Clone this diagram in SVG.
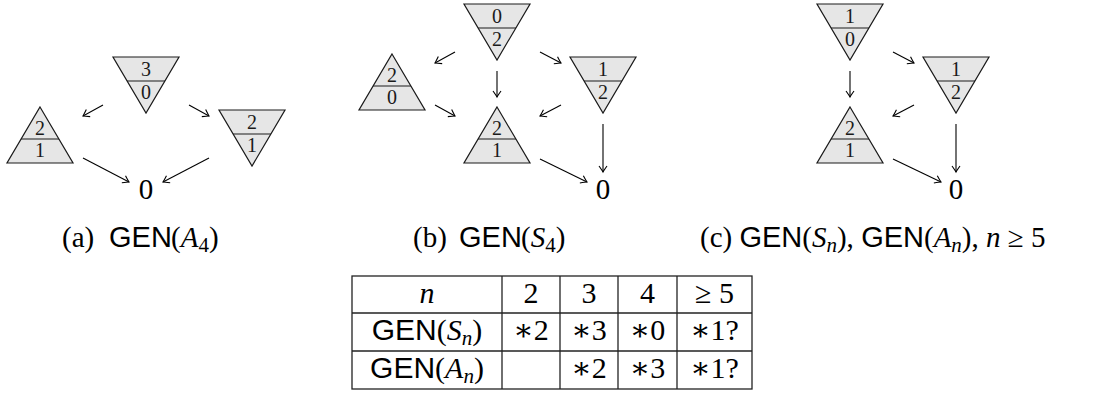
<svg xmlns="http://www.w3.org/2000/svg" width="1112" height="395" viewBox="0 0 1112 395">
<style>
.tri{fill:#e6e6e6;stroke:#1a1a1a;stroke-width:1.2;stroke-linejoin:miter}
.div{stroke:#1a1a1a;stroke-width:1.2}
.d{font-family:"Liberation Serif","DejaVu Serif",serif;font-size:20px;fill:#1a1a1a;text-anchor:middle}
.z{font-family:"Liberation Serif","DejaVu Serif",serif;font-size:29px;fill:#000;text-anchor:middle}
.cap{font-family:"Liberation Serif","DejaVu Serif",serif;font-size:29px;fill:#000}
.sf{font-family:"Liberation Sans","DejaVu Sans",sans-serif}
.it{font-style:italic}
.sub{font-size:21px}
.arr{stroke:#000;stroke-width:1.1;fill:none;marker-end:url(#ah)}
.tl{stroke:#222;stroke-width:1.3;fill:none}
.tc{font-family:"Liberation Serif","DejaVu Serif",serif;font-size:30px;fill:#000;text-anchor:middle}
</style>
<defs>
<marker id="ah" viewBox="-8 -5 10 10" refX="0" refY="0" markerWidth="10" markerHeight="10" markerUnits="userSpaceOnUse" orient="auto">
<path d="M-6,-4 Q-1.5,-0.8 0,0 Q-1.5,0.8 -6,4" fill="none" stroke="#000" stroke-width="1.1"/>
</marker>
</defs>

<g id="connectors">
<line class="arr" x1="103" y1="105" x2="83" y2="116"/>
<line class="arr" x1="189" y1="105" x2="209" y2="116"/>
<line class="arr" x1="83" y1="158" x2="129" y2="182"/>
<line class="arr" x1="209" y1="158" x2="163" y2="182"/>

<line class="arr" x1="455" y1="52" x2="435" y2="63"/>
<line class="arr" x1="540" y1="52" x2="561" y2="63"/>
<line class="arr" x1="497" y1="71" x2="497" y2="97"/>
<line class="arr" x1="435" y1="105" x2="455" y2="116"/>
<line class="arr" x1="561" y1="105" x2="540" y2="116"/>
<line class="arr" x1="603" y1="124" x2="603" y2="172"/>
<line class="arr" x1="540" y1="159" x2="587" y2="182"/>

<line class="arr" x1="850" y1="71" x2="850" y2="97"/>
<line class="arr" x1="893" y1="52" x2="914" y2="63"/>
<line class="arr" x1="914" y1="105" x2="893" y2="116"/>
<line class="arr" x1="956" y1="124" x2="956" y2="172"/>
<line class="arr" x1="893" y1="159" x2="941" y2="182"/>
</g>

<!-- (a) -->
<g id="a-top">
<polygon class="tri" points="113,57 179,57 146,113"/>
<line class="div" x1="127.1" y1="81" x2="164.9" y2="81"/>
<text class="d" x="146" y="76">3</text>
<text class="d" x="146" y="99">0</text>
</g>
<g id="a-left">
<polygon class="tri" points="40,107 73,163 7,163"/>
<line class="div" x1="21.1" y1="139" x2="58.9" y2="139"/>
<text class="d" x="40" y="135">2</text>
<text class="d" x="40" y="157">1</text>
</g>
<g id="a-right">
<polygon class="tri" points="219,110 285,110 252,166"/>
<line class="div" x1="233.1" y1="134" x2="270.9" y2="134"/>
<text class="d" x="252" y="129">2</text>
<text class="d" x="252" y="152">1</text>
</g>
<g id="a-zero"><text class="z" x="146" y="199">0</text></g>

<!-- (b) -->
<g id="b-top">
<polygon class="tri" points="464,4 530,4 497,60"/>
<line class="div" x1="478.1" y1="28" x2="515.9" y2="28"/>
<text class="d" x="497" y="23">0</text>
<text class="d" x="497" y="46">2</text>
</g>
<g id="b-left">
<polygon class="tri" points="392,54 425,110 359,110"/>
<line class="div" x1="373.1" y1="86" x2="410.9" y2="86"/>
<text class="d" x="392" y="82">2</text>
<text class="d" x="392" y="104">0</text>
</g>
<g id="b-right">
<polygon class="tri" points="570,57 636,57 603,113"/>
<line class="div" x1="584.1" y1="81" x2="621.9" y2="81"/>
<text class="d" x="603" y="76">1</text>
<text class="d" x="603" y="99">2</text>
</g>
<g id="b-center">
<polygon class="tri" points="497,107 530,163 464,163"/>
<line class="div" x1="478.1" y1="139" x2="515.9" y2="139"/>
<text class="d" x="497" y="135">2</text>
<text class="d" x="497" y="157">1</text>
</g>
<g id="b-zero"><text class="z" x="603" y="199">0</text></g>

<!-- (c) -->
<g id="c-top">
<polygon class="tri" points="817,4 883,4 850,60"/>
<line class="div" x1="831.1" y1="28" x2="868.9" y2="28"/>
<text class="d" x="850" y="23">1</text>
<text class="d" x="850" y="46">0</text>
</g>
<g id="c-right">
<polygon class="tri" points="923,57 989,57 956,113"/>
<line class="div" x1="937.1" y1="81" x2="974.9" y2="81"/>
<text class="d" x="956" y="76">1</text>
<text class="d" x="956" y="99">2</text>
</g>
<g id="c-center">
<polygon class="tri" points="850,107 883,163 817,163"/>
<line class="div" x1="831.1" y1="139" x2="868.9" y2="139"/>
<text class="d" x="850" y="135">2</text>
<text class="d" x="850" y="157">1</text>
</g>
<g id="c-zero"><text class="z" x="956" y="199">0</text></g>

<!-- captions -->
<g id="captions">
<text class="cap" x="62" y="247">(a)<tspan class="sf" x="109">GEN</tspan><tspan x="171">(</tspan><tspan class="it">A</tspan><tspan class="sub" dy="5">4</tspan><tspan dy="-5">)</tspan></text>
<text class="cap" x="413" y="247">(b)<tspan class="sf" x="459">GEN</tspan><tspan x="521">(</tspan><tspan class="it">S</tspan><tspan class="sub" dy="5">4</tspan><tspan dy="-5">)</tspan></text>
<text class="cap" x="700" y="247">(c) <tspan class="sf">GEN</tspan>(<tspan class="it">S</tspan><tspan class="sub it" dy="5">n</tspan><tspan dy="-5">), </tspan><tspan class="sf">GEN</tspan>(<tspan class="it">A</tspan><tspan class="sub it" dy="5">n</tspan><tspan dy="-5">), </tspan><tspan class="it">n</tspan> ≥ 5</text>
</g>

<!-- table -->
<g id="table">
<rect class="tl" x="352" y="276" width="400" height="113"/>
<line class="tl" x1="352" y1="313" x2="752" y2="313"/>
<line class="tl" x1="352" y1="351" x2="752" y2="351"/>
<line class="tl" x1="502" y1="276" x2="502" y2="389"/>
<line class="tl" x1="560" y1="276" x2="560" y2="389"/>
<line class="tl" x1="618" y1="276" x2="618" y2="389"/>
<line class="tl" x1="677" y1="276" x2="677" y2="389"/>

<text class="tc it" x="427" y="303">n</text>
<text class="tc" x="531" y="303">2</text>
<text class="tc" x="589" y="303">3</text>
<text class="tc" x="647.5" y="303">4</text>
<text class="tc" x="714.5" y="303">≥ 5</text>

<text class="tc" x="427" y="340"><tspan class="sf">GEN</tspan>(<tspan class="it">S</tspan><tspan class="sub it" dy="5">n</tspan><tspan dy="-5">)</tspan></text>
<text class="tc" x="531" y="340">∗2</text>
<text class="tc" x="589" y="340">∗3</text>
<text class="tc" x="647.5" y="340">∗0</text>
<text class="tc" x="714.5" y="340">∗1?</text>

<text class="tc" x="427" y="378"><tspan class="sf">GEN</tspan>(<tspan class="it">A</tspan><tspan class="sub it" dy="5">n</tspan><tspan dy="-5">)</tspan></text>
<text class="tc" x="589" y="378">∗2</text>
<text class="tc" x="647.5" y="378">∗3</text>
<text class="tc" x="714.5" y="378">∗1?</text>
</g>
</svg>
